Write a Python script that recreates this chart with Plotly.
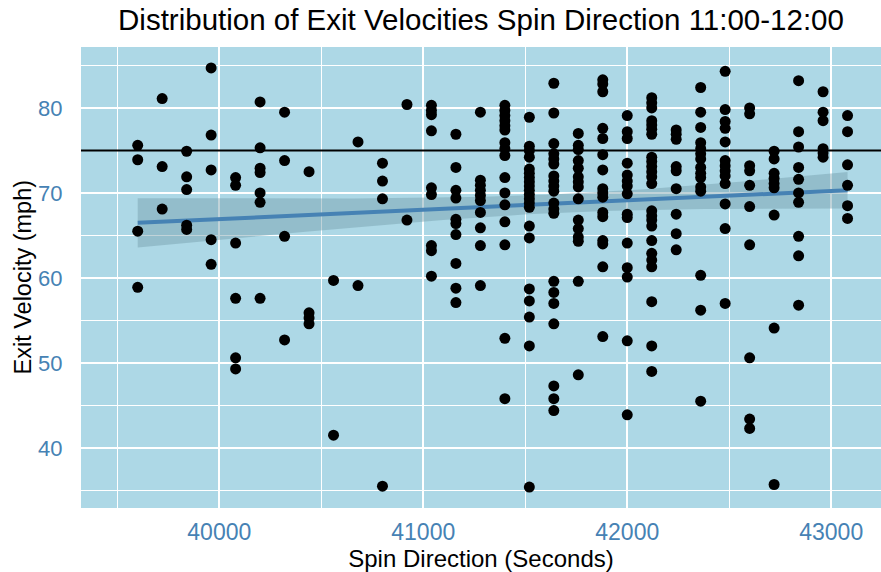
import numpy as np
import plotly.graph_objects as go

# ---- data ----
column_seconds = [39600, 39720, 39840, 39960, 40080, 40200, 40320, 40440, 40560, 40680,
                  40800, 40920, 41040, 41160, 41280, 41400, 41520, 41640, 41760, 41880,
                  42000, 42120, 42240, 42360, 42480, 42600, 42720, 42840, 42960, 43080]

velocities_by_column = [
    [75.6, 73.9, 65.5, 58.9],
    [81.1, 73.1, 68.1],
    [74.9, 71.9, 70.4, 66.2, 65.7],
    [84.7, 76.8, 72.7, 64.5, 61.6],
    [71.8, 70.9, 64.1, 57.6, 50.6, 49.3],
    [80.7, 75.3, 72.9, 72.4, 70.0, 68.9, 57.6],
    [79.5, 73.8, 64.9, 52.7],
    [72.5, 55.9, 55.3, 54.6],
    [59.7, 41.5],
    [76.0, 59.1],
    [73.5, 71.4, 69.3, 35.5],
    [80.4, 66.8],
    [80.3, 79.7, 79.2, 77.3, 70.6, 69.8, 63.8, 63.2, 60.2],
    [76.9, 73.0, 70.3, 69.4, 66.9, 66.4, 65.1, 61.7, 58.8, 57.1],
    [79.5, 71.5, 70.9, 70.3, 69.7, 69.1, 67.7, 65.9, 63.8, 59.1],
    [80.3, 79.7, 79.1, 78.5, 77.9, 77.4, 75.9, 75.2, 74.4, 71.8, 70.0, 68.6, 66.6, 63.9, 52.9, 45.8],
    [78.9, 75.5, 75.0, 74.2, 72.8, 72.3, 71.8, 71.3, 70.8, 70.3, 69.8, 69.3, 68.8, 68.3, 66.1, 64.7,
     58.7, 57.3, 55.4, 52.0, 35.4],
    [82.9, 79.4, 75.8, 74.6, 74.0, 73.4, 72.0, 71.4, 70.8, 70.2, 68.8, 68.1, 67.6, 59.6, 58.3, 57.0,
     54.6, 47.3, 45.8, 44.4],
    [77.0, 75.6, 75.1, 73.8, 72.9, 71.9, 71.3, 70.7, 69.3, 66.8, 65.8, 64.8, 64.3, 59.6, 48.6],
    [83.3, 82.8, 81.9, 77.6, 76.4, 74.5, 72.7, 70.5, 70.0, 69.5, 67.7, 67.2, 64.4, 64.0, 61.3, 53.1],
    [79.1, 77.2, 76.4, 73.5, 72.1, 71.4, 70.8, 69.9, 67.5, 67.1, 64.1, 61.2, 60.1, 52.6, 43.9],
    [81.2, 80.6, 80.0, 78.5, 78.0, 77.5, 76.9, 74.2, 73.7, 73.1, 72.5, 71.9, 71.1, 67.9, 67.3, 66.8,
     66.1, 64.4, 62.9, 62.1, 61.3, 57.2, 52.0, 49.0],
    [77.4, 76.9, 76.3, 73.1, 72.6, 70.5, 67.5, 65.2, 63.3],
    [82.4, 79.5, 77.7, 75.9, 75.2, 74.6, 74.0, 73.0, 72.3, 71.8, 70.7, 70.2, 60.3, 56.2, 45.5],
    [84.3, 79.8, 78.4, 77.6, 76.0, 73.8, 73.2, 72.6, 72.0, 71.1, 68.7, 65.8, 57.0],
    [80.0, 79.3, 73.2, 72.6, 70.9, 68.4, 63.9, 50.6, 43.4, 42.3],
    [74.9, 74.0, 72.3, 71.7, 71.1, 70.6, 67.4, 54.1, 35.7],
    [83.2, 77.2, 75.4, 73.0, 71.6, 70.0, 68.9, 64.9, 62.6, 56.8],
    [81.9, 79.5, 78.5, 75.2, 74.7, 74.2],
    [79.1, 77.2, 73.3, 70.9, 68.5, 67.0],
]

reference_velocity = 75          # horizontal reference line (mph)
x_tick_values = [40000, 41000, 42000, 43000]
x_minor_values = [39500, 40500, 41500, 42500]
y_tick_values = [40, 50, 60, 70, 80]
y_minor_values = [35, 45, 55, 65, 75, 85]

title_text = "Distribution of Exit Velocities Spin Direction 11:00-12:00"
x_title = "Spin Direction (Seconds)"
y_title = "Exit Velocity (mph)"

# ---- flatten ----
xs, ys = [], []
for sec, vals in zip(column_seconds, velocities_by_column):
    xs.extend([sec] * len(vals))
    ys.extend(vals)
xs = np.array(xs, dtype=float)
ys = np.array(ys, dtype=float)

# ---- linear fit with 95% confidence band (like geom_smooth(method="lm")) ----
n = len(xs)
slope, intercept = np.polyfit(xs, ys, 1)
resid = ys - (slope * xs + intercept)
s = np.sqrt(np.sum(resid ** 2) / (n - 2))
xbar = xs.mean()
sxx = np.sum((xs - xbar) ** 2)
xfit = np.linspace(xs.min(), xs.max(), 80)
yfit = slope * xfit + intercept
se = s * np.sqrt(1.0 / n + (xfit - xbar) ** 2 / sxx)
tq = 1.968
upper = yfit + tq * se
lower = yfit - tq * se

x_range = [39322, 43244]
span = ys.max() - ys.min()
y_range = [ys.min() - 0.05 * span, ys.max() + 0.05 * span]

fig = go.Figure()
fig.add_trace(go.Scatter(
    x=np.concatenate([xfit, xfit[::-1]]),
    y=np.concatenate([upper, lower[::-1]]),
    fill="toself", fillcolor="rgba(115,158,170,0.45)",
    line=dict(width=0), mode="lines", hoverinfo="skip"))
fig.add_trace(go.Scatter(x=xfit, y=yfit, mode="lines",
                         line=dict(color="#4682B4", width=4)))
fig.add_trace(go.Scatter(x=x_range, y=[reference_velocity, reference_velocity],
                         mode="lines", line=dict(color="black", width=2)))
fig.add_trace(go.Scatter(x=xs, y=ys, mode="markers",
                         marker=dict(color="black", size=11)))

font_family = "Liberation Sans, Arial, sans-serif"
tick_color = "#4682B4"

fig.update_layout(
    width=881, height=572,
    margin=dict(l=81, r=0, t=47, b=64),
    plot_bgcolor="#ADD8E6", paper_bgcolor="white",
    showlegend=False,
    font=dict(family=font_family, color="black"),
    title=dict(text=title_text, x=0.5, xref="paper", xanchor="center",
               y=1 - 20 / 572, yref="container", yanchor="middle",
               font=dict(size=29.5, color="black")),
    annotations=[dict(text=y_title, textangle=-90, xref="paper", yref="paper",
                      x=(22 - 81) / 800, y=0.5, xanchor="center", yanchor="middle",
                      showarrow=False, font=dict(size=23.5, color="black"))],
)
fig.update_xaxes(
    range=x_range, tickvals=x_tick_values, tickformat="d",
    showgrid=True, gridcolor="white", gridwidth=2, zeroline=False,
    showline=False, ticks="outside", ticklen=3, tickcolor="rgba(0,0,0,0)",
    tickfont=dict(size=23, color=tick_color),
    minor=dict(tickvals=x_minor_values, showgrid=True, gridcolor="white", gridwidth=1),
    title=dict(text=x_title, font=dict(size=24, color="black"), standoff=8),
)
fig.update_yaxes(
    range=y_range, tickvals=y_tick_values,
    showgrid=True, gridcolor="white", gridwidth=2, zeroline=False,
    showline=False, ticks="outside", ticklen=13, tickcolor="rgba(0,0,0,0)",
    tickfont=dict(size=22, color=tick_color),
    minor=dict(tickvals=y_minor_values, showgrid=True, gridcolor="white", gridwidth=1),
)

fig.write_html("out.html")
